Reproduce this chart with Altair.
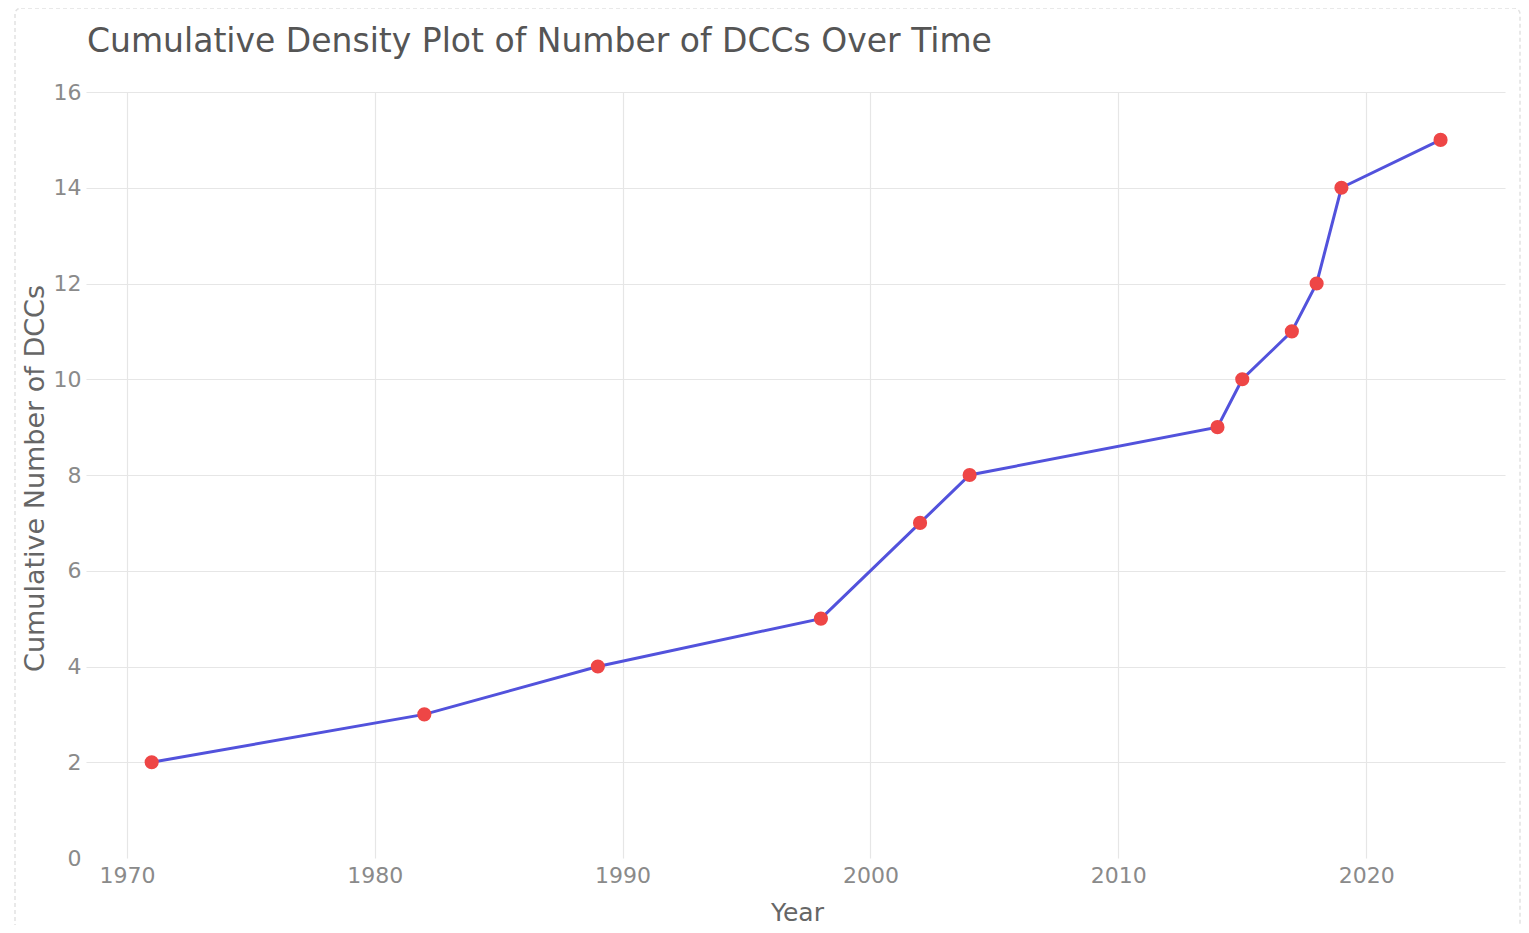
import altair as alt
import pandas as pd

years = [1971, 1982, 1989, 1998, 2002, 2004, 2014, 2015, 2017, 2018, 2019, 2023]
cumulative = [2, 3, 4, 5, 7, 8, 9, 10, 11, 12, 14, 15]
x_ticks = [1970, 1980, 1990, 2000, 2010, 2020]
y_ticks = [0, 2, 4, 6, 8, 10, 12, 14, 16]

df = pd.DataFrame({"Year": years, "Cumulative": cumulative})

FONT = "DejaVu Sans"

x_enc = alt.X(
    "Year:Q",
    scale=alt.Scale(domain=[1968.35, 2025.6], nice=False, zero=False),
    axis=alt.Axis(
        values=x_ticks, format="d", title="Year",
        grid=True, gridColor="#e6e6e6", gridWidth=1.2,
        domain=False, ticks=False, labelPadding=7,
        labelFont=FONT, labelFontSize=22, labelColor="#8a8a8a",
        titleFont=FONT, titleFontSize=25, titleColor="#666666", titleFontWeight="normal",
        titleX=711, titleY=54, titleBaseline="middle", titleAlign="center",
    ),
)
y_enc = alt.Y(
    "Cumulative:Q",
    scale=alt.Scale(domain=[0, 16], nice=False),
    axis=alt.Axis(
        values=y_ticks, title="Cumulative Number of DCCs",
        grid=True, gridColor="#e6e6e6", gridWidth=1.2,
        gridOpacity={"condition": {"test": "datum.value === 0", "value": 0}, "value": 1},
        domain=False, ticks=False, labelPadding=5,
        labelFont=FONT, labelFontSize=22, labelColor="#8a8a8a",
        titleFont=FONT, titleFontSize=27, titleColor="#666666", titleFontWeight="normal",
        titleX=-51, titleY=386, titleAngle=270, titleBaseline="middle", titleAlign="center",
    ),
)

# faint dashed outer frame around the whole figure (decoration)
frame = alt.Chart(pd.DataFrame({"f": [0]})).mark_rect(
    fill="transparent", stroke="#e2e2e2", strokeWidth=1.5, strokeDash=[4, 3],
    cornerRadius=6, clip=False,
).encode(x=alt.value(-71), x2=alt.value(1434), y=alt.value(-84), y2=alt.value(838))

line = alt.Chart(df).mark_line(color="#5252dc", strokeWidth=3).encode(x=x_enc, y=y_enc)
points = alt.Chart(df).mark_point(filled=True, color="#ee4646", size=200, opacity=1).encode(x=x_enc, y=y_enc)

chart = alt.layer(frame, line, points).properties(
    width=1419,
    height=766,
    background="white",
    autosize=alt.AutoSizeParams(type="none"),
    padding={"left": 78, "top": 84, "right": 16, "bottom": 67},
    title=alt.TitleParams(
        "Cumulative Density Plot of Number of DCCs Over Time",
        anchor="start", frame="group", font=FONT, fontSize=33, fontWeight="normal",
        color="#555555", baseline="alphabetic", offset=40, dx=1, dy=118,
    ),
).configure_view(strokeWidth=0, stroke="transparent")

chart.save("out.html", embed_options={"renderer": "svg", "actions": False})
